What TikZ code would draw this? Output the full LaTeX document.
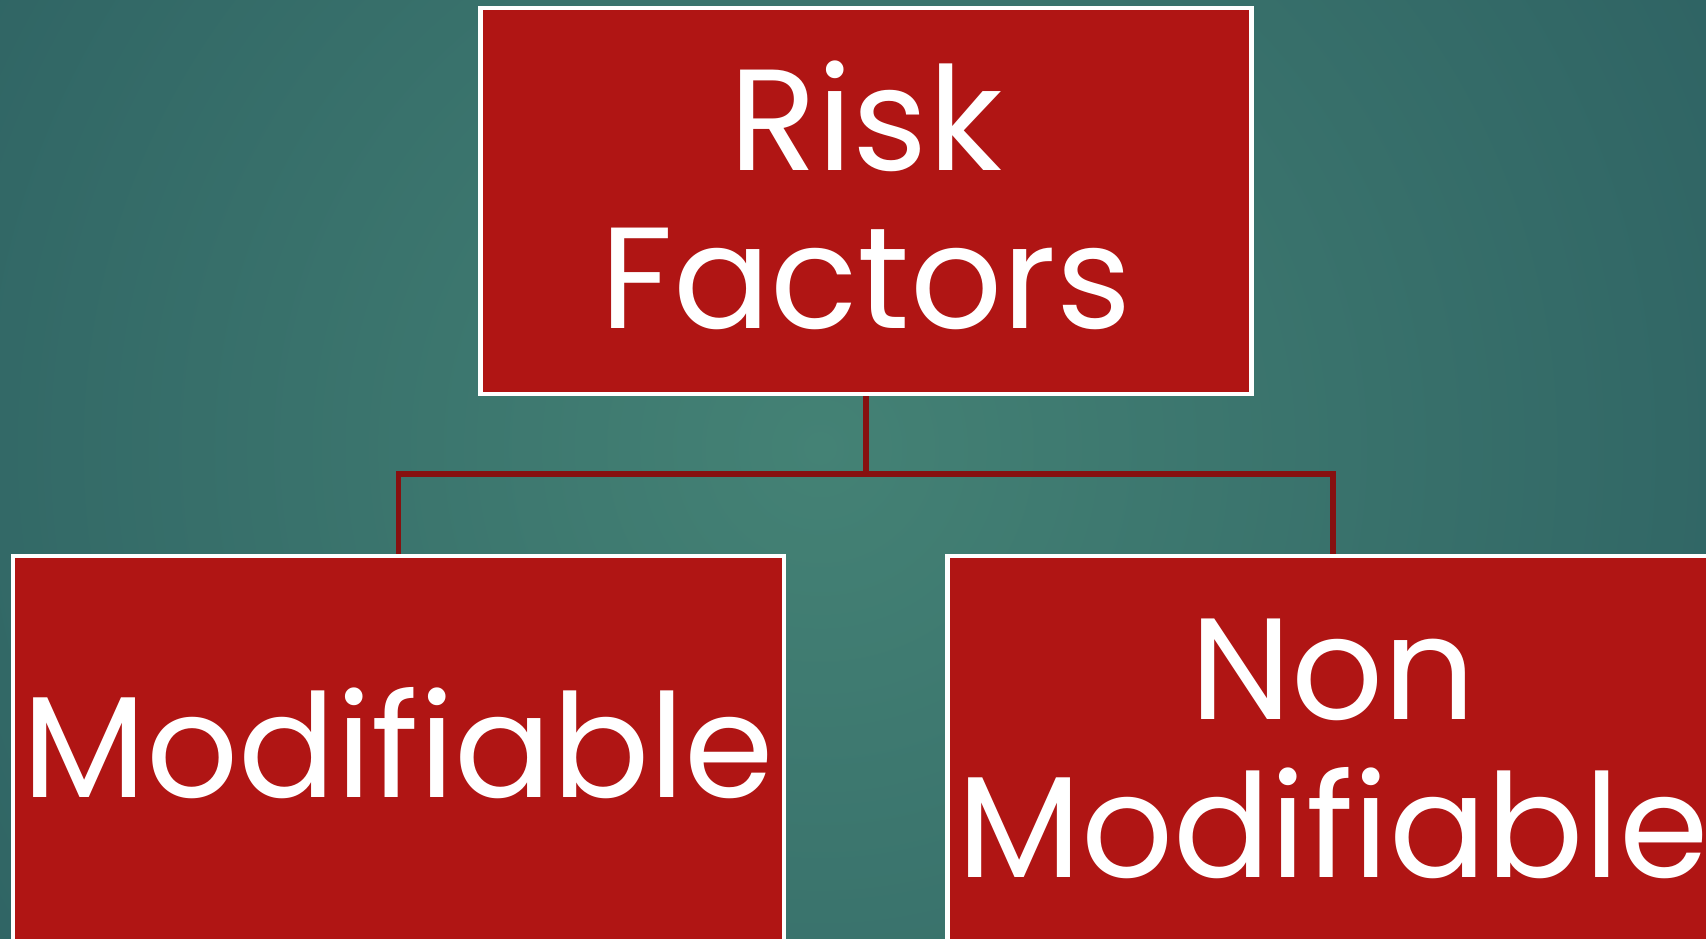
\documentclass[tikz,border=0pt]{standalone}
\usepackage{fontspec}
\setmainfont{Poppins}
\definecolor{boxred}{RGB}{176,21,20}
\definecolor{linkred}{RGB}{135,16,16}
\definecolor{tealmid}{RGB}{68,130,117}
\definecolor{tealedge}{RGB}{28,72,84}
\tikzset{
  factor/.style={draw=white,line width=1.2pt,fill=boxred,text=white,
    minimum width=7.71cm,minimum height=3.86cm,inner sep=0pt,
    align=center,font=\fontsize{41}{45}\selectfont},
  % tall ascenders push the text down a little, lift it back
  lifted/.style={text depth=0.13cm},
  link/.style={linkred,line width=1.5pt}
}
\begin{document}
\begin{tikzpicture}
  \clip (0,0) rectangle (17.06,9.38);
  % soft teal backdrop, lighter towards the middle
  \shade[inner color=tealmid,outer color=tealedge] (8.2,4.9) circle (19);
  \node[factor,lifted] (risk) at (8.66,7.37) {Risk\\Factors};
  \node[factor,lifted] (mod) at (3.985,1.89) {Modifiable};
  \node[factor] (nonmod) at (13.33,1.89) {Non\\Modifiable};
  \coordinate (bar) at (8.66,4.64);
  \draw[link] (risk.south) -- (bar) -| (mod.north);
  \draw[link] (bar) -| (nonmod.north);
\end{tikzpicture}
\end{document}
